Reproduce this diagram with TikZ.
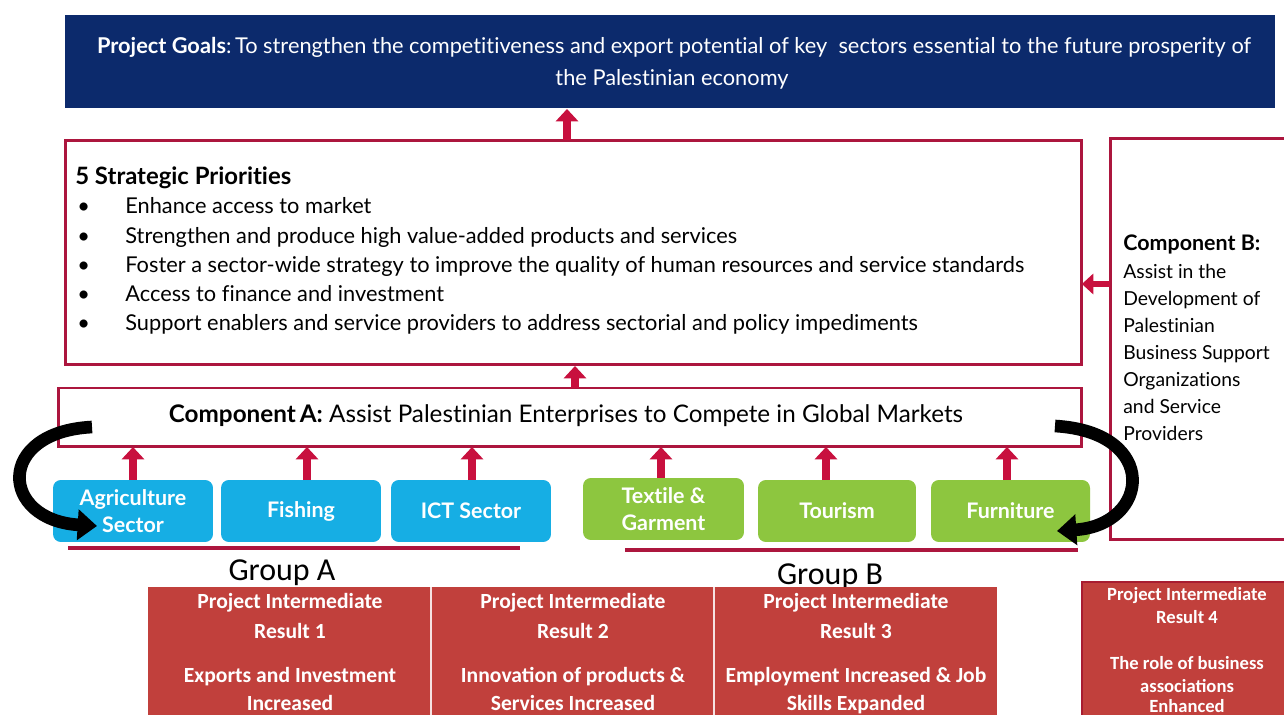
\documentclass[tikz,border=0pt]{standalone}
\usepackage{fontspec}
\setmainfont{Lato}[Ligatures=NoCommon]
\newfontfamily\calib{Carlito}
\usetikzlibrary{arrows.meta}
\definecolor{navy}{RGB}{12,42,108}
\definecolor{crim}{RGB}{172,22,62}
\definecolor{arred}{RGB}{200,16,62}
\definecolor{skyb}{RGB}{22,174,228}
\definecolor{leaf}{RGB}{141,198,63}
\definecolor{tabred}{RGB}{193,64,60}
\definecolor{tabedge}{RGB}{168,28,48}
\tikzset{
  frame/.style={draw=crim, line width=1.7pt, inner sep=0pt, outer sep=0pt},
  sector/.style={rounded corners=4.5pt, inner sep=0pt, outer sep=0pt, text=white, font=\bfseries\fontsize{12.2}{15.3}\selectfont, align=center, minimum width=3.2cm, minimum height=1.24cm},
  uparrow/.style={arred, line width=4.5pt, -{Triangle[width=12.5pt,length=7pt]}},
  bigarrow/.style={black, line width=7.2pt, -{Triangle[width=17pt,length=11pt]}},
  bodytxt/.style={font=\fontsize{12.4}{14}\selectfont, inner sep=0pt},
  tabtxt/.style={font=\calib\bfseries\fontsize{12.3}{14}\selectfont, text=white, inner sep=0pt},
  smalltab/.style={font=\calib\bfseries\fontsize{10.6}{13}\selectfont, text=white, inner sep=0pt},
  grouptxt/.style={font=\calib\fontsize{18.2}{20}\selectfont, inner sep=0pt},
  uline/.style={crim, line width=2.4pt}
}
\begin{document}
\begin{tikzpicture}[x=0.02cm,y=-0.02cm]
\useasboundingbox (0,0) rectangle (1284,715);
\clip (0,0) rectangle (1284,715);
\fill[white] (0,0) rectangle (1284,715);

% Goals
\node[fill=navy, inner sep=0pt, outer sep=0pt, minimum width=24.2cm, minimum height=1.86cm] (goals) at (670,61.5) {};
\node[bodytxt, text=white, anchor=base] (g1) at (674,54) {\textbf{Project Goals}:\,To strengthen the competitiveness and export potential of key \ sectors essential to the future prosperity of};
\node[bodytxt, text=white, anchor=base] (g2) at (672,86) {the Palestinian economy};

% Strategic priorities
\node[frame, minimum width=20.34cm, minimum height=4.5cm] (strat) at (573.5,252.5) {};
\node[inner sep=0pt, anchor=base west, font=\bfseries\fontsize{13.6}{15}\selectfont] (sp0) at (75,185) {5 Strategic Priorities};
\foreach \yy/\tx [count=\i] in {214/Enhance access to market,
  244/Strengthen and produce high value-added products and services,
  273/Foster a sector-wide strategy to improve the quality of human resources and service standards,
  302/Access to finance and investment,
  331/Support enablers and service providers to address sectorial and policy impediments}{
  \node[bodytxt, anchor=base west] (sb\i) at (77,\yy) {\textbullet};
  \node[bodytxt, anchor=base west] (sp\i) at (125,\yy) {\tx};
}

% Component A
\node[frame, minimum width=20.48cm, minimum height=1.18cm] (compA) at (570,417.5) {};
\node[inner sep=0pt, anchor=base, font=\fontsize{13.8}{16}\selectfont] (compAt) at (566,423) {\textbf{Component\,A:} Assist Palestinian Enterprises to Compete in Global Markets};

% Component B
\node[frame, minimum width=3.8cm, minimum height=8.04cm] (compB) at (1205,339) {};
\node[inner sep=0pt, anchor=base west, font=\bfseries\fontsize{12.2}{14}\selectfont] (cb0) at (1123,251) {Component B:};
\foreach \yy/\tx [count=\i] in {279/Assist in the, 306/Development of, 333/Palestinian, 360/Business Support, 387/Organizations, 414/and Service, 441/Providers}{
  \node[inner sep=0pt, anchor=base west, font=\fontsize{11}{13}\selectfont] (cb\i) at (1123,\yy) {\tx};
}

% Sectors
\node[sector, fill=skyb] (agri) at (133,511) {Agriculture\\Sector};
\node[sector, fill=skyb] (fish) at (301,511) {Fishing};
\node[sector, fill=skyb] (ict) at (471,511) {ICT Sector};
\node[sector, fill=leaf, minimum width=3.22cm] (text) at (663.5,509) {Textile \&\\Garment};
\node[sector, fill=leaf, minimum width=3.16cm] (tour) at (837,511) {Tourism};
\node[sector, fill=leaf, minimum width=3.18cm] (furn) at (1010.5,511) {Furniture};

% Up arrows
\foreach \n/\xx in {agri/133, fish/307, ict/472, text/661, tour/826, furn/1007}{
  \draw[uparrow] (\n.north -| \xx,0) -- (compA.south -| \xx,0);
}
\draw[uparrow] (compA.north -| 575,0) -- (575,366);
\draw[uparrow] (strat.north -| 567,0) -- (567,109);
\draw[arred, line width=3.6pt, -{Triangle[width=11.5pt,length=6.5pt]}] (compB.west |- 0,284) -- (strat.east |- 0,284);

% Big black curved arrows
\coordinate (la) at (92,427);
\coordinate (lt) at (97,526);
\coordinate (ra) at (1055,426);
\coordinate (rt) at (1057,531);
\draw[bigarrow] (la) .. controls (-5,432) and (0,520) .. (lt);
\draw[bigarrow] (ra) .. controls (1160,432) and (1150,525) .. (rt);

% Group underlines
\coordinate (gaL) at (68,548);
\coordinate (gaR) at (520,548);
\coordinate (gbL) at (625,550);
\coordinate (gbR) at (1078,550);
\draw[uline] (gaL) -- (gaR);
\draw[uline] (gbL) -- (gbR);
\node[grouptxt, anchor=base] (grA) at (282,581) {Group A};
\node[grouptxt, anchor=base] (grB) at (830,584) {Group B};

% Results table
\node[fill=tabred, inner sep=0pt, outer sep=0pt, minimum width=5.66cm, minimum height=3.46cm] (r1) at (289.5,673.5) {};
\node[fill=tabred, inner sep=0pt, outer sep=0pt, minimum width=5.66cm, minimum height=3.46cm] (r2) at (572.5,673.5) {};
\node[fill=tabred, inner sep=0pt, outer sep=0pt, minimum width=5.66cm, minimum height=3.46cm] (r3) at (855.5,673.5) {};
\draw[white!85!tabred, line width=0.9pt] (r1.north east) -- (r1.south east);
\draw[white!85!tabred, line width=0.9pt] (r2.north east) -- (r2.south east);
\foreach \n/\xx/\a/\b/\c/\d in {r1/290/Project Intermediate/Result 1/Exports and Investment/Increased,
  r2/573/Project Intermediate/Result 2/Innovation of products \&/Services Increased,
  r3/856/Project Intermediate/Result 3/Employment Increased \& Job/Skills Expanded}{
  \node[tabtxt, anchor=base] (\n a) at (\xx,608) {\a};
  \node[tabtxt, anchor=base] (\n b) at (\xx,638) {\b};
  \node[tabtxt, anchor=base] (\n c) at (\xx,682) {\c};
  \node[tabtxt, anchor=base] (\n d) at (\xx,710) {\d};
}
\node[fill=tabred, draw=tabedge, line width=1.2pt, inner sep=0pt, outer sep=0pt, minimum width=4.36cm, minimum height=3.56cm] (r4) at (1191,671) {};
\foreach \yy/\tx [count=\i] in {601/Project Intermediate, 623/Result 4, 669/The role of business, 692/associations, 712/Enhanced}{
  \node[smalltab, anchor=base] (r4t\i) at (1187,\yy) {\tx};
}
\end{tikzpicture}
\end{document}
